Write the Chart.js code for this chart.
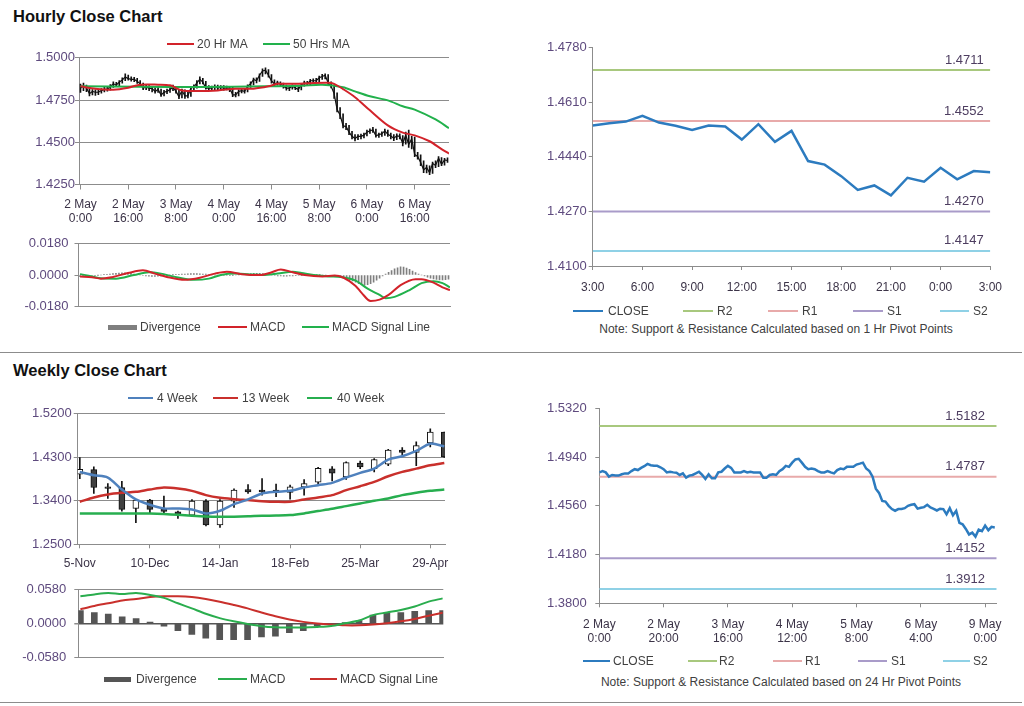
<!DOCTYPE html>
<html>
<head>
<meta charset="utf-8">
<title>Hourly and Weekly Close Charts</title>
<script src="https://cdn.jsdelivr.net/npm/chart.js@4.4.1/dist/chart.umd.min.js"></script>
<style>
 html,body{margin:0;padding:0;background:#fff;}
 body{position:relative;width:1024px;height:706px;overflow:hidden;font-family:"Liberation Sans",Arial,sans-serif;}
 canvas{position:absolute;}
 .title{position:absolute;left:13px;font-size:16.5px;font-weight:bold;line-height:20px;color:#111;white-space:nowrap;}
 .sep{position:absolute;left:0;width:1022px;height:1px;background:#8c8c8c;}
 .lgt{position:absolute;font-size:12px;line-height:14px;color:#404040;white-space:nowrap;}
 .lgs{position:absolute;}
 .note{position:absolute;font-size:12px;line-height:14px;color:#404040;white-space:nowrap;transform:translateX(-50%);}
</style>
</head>
<body>
<div class="title" style="top:6px">Hourly Close Chart</div>
<div class="sep" style="top:352px"></div>
<div class="title" style="top:360px">Weekly Close Chart</div>
<div class="sep" style="top:702px"></div>

<canvas id="cA" width="462" height="178" style="left:0;top:50px"></canvas>
<canvas id="cB" width="462" height="90" style="left:0;top:230px"></canvas>
<canvas id="cC" width="497" height="262" style="left:515px;top:38px"></canvas>
<canvas id="cD" width="460" height="170" style="left:0;top:404px"></canvas>
<canvas id="cE" width="460" height="99" style="left:0;top:574px"></canvas>
<canvas id="cF" width="497" height="258" style="left:515px;top:392px"></canvas>

<div class="note" style="left:776px;top:322px">Note: Support &amp; Resistance Calculated based on 1 Hr Pivot Points</div>
<div class="note" style="left:781px;top:675px">Note: Support &amp; Resistance Calculated based on 24 Hr Pivot Points</div>

<script>
// ===================== DATA =====================
// Hourly close (124 hourly bars, 2 May 0:00 onwards)
const hrClose = [
1.4821,1.4831,1.4821,1.4788,1.4801,1.4796,1.4796,1.4806,1.4813,1.4813,
1.4831,1.4846,1.4839,1.4856,1.4869,1.4887,1.4877,1.4872,1.4872,1.4861,
1.4846,1.4821,1.4826,1.4821,1.4818,1.4801,1.4813,1.4780,1.4796,1.4801,
1.4813,1.4826,1.4801,1.4770,1.4806,1.4775,1.4775,1.4821,1.4826,1.4851,
1.4872,1.4856,1.4821,1.4821,1.4821,1.4831,1.4821,1.4826,1.4821,1.4821,
1.4821,1.4780,1.4780,1.4801,1.4806,1.4801,1.4831,1.4846,1.4872,1.4864,
1.4897,1.4922,1.4927,1.4897,1.4864,1.4846,1.4851,1.4846,1.4831,1.4821,
1.4821,1.4831,1.4821,1.4813,1.4839,1.4851,1.4846,1.4864,1.4864,1.4864,
1.4882,1.4889,1.4897,1.4851,1.4831,1.4788,1.4694,1.4661,1.4598,1.4593,
1.4560,1.4535,1.4522,1.4535,1.4535,1.4542,1.4560,1.4568,1.4573,
1.4538,1.4545,1.4550,1.4568,1.4547,1.4537,1.4524,1.4538,1.4535,1.4494,
1.4542,1.4487,1.4521,1.4427,1.4416,1.4380,1.4337,1.4351,1.4320,1.4375,
1.4363,1.4406,1.4370,1.4396,1.4392];
const hrHigh = [
1.4845,1.4850,1.4838,1.4825,1.4812,1.4810,1.4808,1.4818,1.4825,1.4828,
1.4842,1.4858,1.4855,1.4865,1.4882,1.4905,1.4898,1.4888,1.4885,1.4878,
1.4865,1.4850,1.4838,1.4835,1.4830,1.4822,1.4825,1.4815,1.4808,1.4815,
1.4826,1.4838,1.4830,1.4808,1.4815,1.4810,1.4795,1.4830,1.4840,1.4865,
1.4888,1.4878,1.4860,1.4835,1.4832,1.4840,1.4838,1.4836,1.4835,1.4832,
1.4830,1.4825,1.4795,1.4810,1.4815,1.4818,1.4840,1.4858,1.4880,1.4882,
1.4905,1.4935,1.4940,1.4930,1.4900,1.4870,1.4862,1.4858,1.4850,1.4838,
1.4832,1.4840,1.4838,1.4828,1.4848,1.4862,1.4860,1.4872,1.4875,1.4878,
1.4892,1.4902,1.4905,1.4900,1.4858,1.4838,1.4792,1.4705,1.4668,1.4612,
1.4600,1.4565,1.4545,1.4545,1.4548,1.4555,1.4572,1.4580,1.4588,
1.4578,1.4555,1.4562,1.4578,1.4572,1.4555,1.4545,1.4550,1.4550,1.4540,
1.4560,1.4572,1.4535,1.4530,1.4440,1.4425,1.4390,1.4365,1.4360,1.4382,
1.4390,1.4415,1.4410,1.4405,1.4408];
const hrLow = [
1.4795,1.4805,1.4800,1.4775,1.4780,1.4778,1.4782,1.4790,1.4798,1.4802,
1.4808,1.4825,1.4830,1.4835,1.4850,1.4865,1.4868,1.4862,1.4858,1.4848,
1.4835,1.4812,1.4812,1.4805,1.4798,1.4790,1.4795,1.4772,1.4775,1.4788,
1.4795,1.4805,1.4790,1.4758,1.4762,1.4760,1.4762,1.4772,1.4812,1.4820,
1.4845,1.4845,1.4815,1.4810,1.4808,1.4812,1.4810,1.4812,1.4808,1.4810,
1.4800,1.4770,1.4768,1.4775,1.4792,1.4790,1.4798,1.4825,1.4840,1.4852,
1.4860,1.4890,1.4905,1.4885,1.4850,1.4835,1.4838,1.4832,1.4820,1.4808,
1.4805,1.4815,1.4812,1.4800,1.4810,1.4832,1.4835,1.4840,1.4850,1.4852,
1.4858,1.4872,1.4875,1.4840,1.4822,1.4760,1.4680,1.4640,1.4585,1.4575,
1.4545,1.4520,1.4508,1.4515,1.4520,1.4525,1.4538,1.4552,1.4558,
1.4530,1.4528,1.4535,1.4540,1.4535,1.4520,1.4510,1.4515,1.4520,1.4478,
1.4488,1.4470,1.4460,1.4415,1.4400,1.4362,1.4320,1.4318,1.4308,1.4315,
1.4350,1.4355,1.4362,1.4365,1.4380];
const hrTickLabels = ['2 May\n0:00','2 May\n16:00','3 May\n8:00','4 May\n0:00','4 May\n16:00','5 May\n8:00','6 May\n0:00','6 May\n16:00'];
const hrYTicks = [1.4250, 1.4500, 1.4750, 1.5000];

// Hourly moving averages (sampled hours)
const ma20Hours = [0,5,11,16,20,26,30,34,40,46,52,58,63,66,72,77,83,85,88,92,97,103,108,112,117,121,123.5];
const ma20Vals  = [1.4831,1.4817,1.4811,1.4823,1.4841,1.4841,1.4837,1.4807,1.4803,1.4807,1.4817,1.4817,1.4831,1.4846,1.4846,1.4850,1.4852,1.4846,1.4815,1.4767,1.4689,1.4600,1.4557,1.4541,1.4506,1.4459,1.4433];
const ma50Hours = [0,20,40,62,74,81,88,92,97,103,108,112,119,123.5];
const ma50Vals  = [1.4831,1.4829,1.4827,1.4831,1.4835,1.4841,1.4826,1.4801,1.4772,1.4748,1.4713,1.4693,1.4635,1.4584];

// Hourly MACD
const hrMacdHours = [0,4,7,11,16,21,25,29,35,40,45,49,54,60,64,67,71,75,81,85,88,92,94,97,100,103,107,112,114,118,121,123.5];
const hrMacd = [-0.0008,-0.0013,-0.0021,-0.0011,0.0011,0.0027,0.0008,-0.0011,-0.0028,-0.0016,0.0008,0.0019,0.0005,0.0000,0.0016,0.0032,0.0016,0.0000,-0.0008,-0.0003,-0.0016,-0.0063,-0.0103,-0.0150,-0.0142,-0.0115,-0.0058,-0.0024,-0.0024,-0.0044,-0.0071,-0.0087];
const hrSigHours = [0,4,7,12,18,23,27,31,38,43,47,52,56,61,66,71,74,78,83,87,92,96,100,102,105,110,114,118,121,123.5];
const hrSignal = [0.0005,-0.0008,-0.0019,-0.0021,0.0000,0.0016,0.0008,-0.0008,-0.0028,-0.0021,0.0000,0.0008,0.0005,0.0000,0.0008,0.0019,0.0011,0.0000,-0.0008,-0.0011,-0.0032,-0.0079,-0.0115,-0.0134,-0.0126,-0.0087,-0.0047,-0.0036,-0.0047,-0.0071];
const hrDiv = [
-0.0010,-0.0008,-0.0006,-0.0005,-0.0003,-0.0002,-0.0001,0.0000,0.0002,0.0004,0.0006,
0.0008,0.0010,0.0011,0.0012,0.0012,0.0011,0.0009,0.0006,0.0003,0.0000,
-0.0003,-0.0005,-0.0007,-0.0008,-0.0008,-0.0007,-0.0006,-0.0004,-0.0002,-0.0001,
0.0001,0.0002,0.0004,0.0005,0.0006,0.0007,0.0008,0.0008,0.0008,0.0007,
0.0006,0.0005,0.0003,0.0001,0.0000,-0.0001,-0.0002,-0.0003,-0.0003,-0.0002,
-0.0001,0.0000,0.0001,0.0002,0.0004,0.0006,0.0008,0.0009,0.0010,0.0009,
0.0008,0.0006,0.0003,0.0000,-0.0003,-0.0005,-0.0006,-0.0007,-0.0007,-0.0006,
-0.0005,-0.0004,-0.0003,-0.0002,-0.0001,0.0000,0.0001,0.0002,0.0002,0.0001,
0.0000,-0.0001,-0.0002,-0.0002,-0.0003,-0.0005,-0.0008,-0.0012,
-0.0018,-0.0026,-0.0034,-0.0042,-0.0050,-0.0056,-0.0058,-0.0056,-0.0050,-0.0042,-0.0030,-0.0018,-0.0006,
0.0005,0.0015,0.0025,0.0035,0.0042,0.0047,0.0045,0.0040,0.0032,0.0022,0.0014,0.0006,
0.0000,-0.0006,-0.0012,-0.0018,-0.0022,-0.0026,-0.0028,-0.0029,-0.0027,-0.0024];
const hrMacdYTicks = [-0.0180, 0.0000, 0.0180];

// 1-hour pivot chart (last 24 hours: 3:00 -> 3:00)
const dayClose = [1.4538,1.4545,1.4550,1.4568,1.4547,1.4537,1.4524,1.4538,1.4535,1.4494,1.4542,1.4487,1.4521,1.4427,1.4416,1.4380,1.4337,1.4351,1.4320,1.4375,1.4363,1.4406,1.4370,1.4396,1.4392];
const dayTickLabels = ['3:00','6:00','9:00','12:00','15:00','18:00','21:00','0:00','3:00'];
const dayYTicks = [1.4100, 1.4270, 1.4440, 1.4610, 1.4780];
const pivotNames = ['R2','R1','S1','S2'];
const pivot1h  = [1.4711, 1.4552, 1.4270, 1.4147];
const pivot24h = [1.5182, 1.4787, 1.4152, 1.3912];

// 24-hour pivot chart
const wkHrTickLabels = ['2 May\n0:00','2 May\n20:00','3 May\n16:00','4 May\n12:00','5 May\n8:00','6 May\n4:00','9 May\n0:00'];
const wkHrYTicks = [1.3800, 1.4180, 1.4560, 1.4940, 1.5320];

// Weekly candles (27 weeks from 5-Nov)
const wkOpen  = [1.3950,1.4046,1.3689,1.3675,1.3242,1.3414,1.3235,1.3173,1.3105,1.3393,1.2899,1.3393,1.3634,1.3620,1.3620,1.3572,1.3689,1.3785,1.4060,1.3895,1.4183,1.4067,1.4156,1.4451,1.4403,1.4595,1.4822];
const wkHigh  = [1.4293,1.4101,1.3757,1.3805,1.3428,1.3428,1.3496,1.3187,1.3427,1.3427,1.3427,1.3647,1.3737,1.3860,1.3744,1.3723,1.3840,1.4094,1.4108,1.4204,1.4224,1.4273,1.4465,1.4499,1.4622,1.4891,1.4822];
const wkLow   = [1.3860,1.3551,1.3448,1.3187,1.2947,1.3153,1.3139,1.3036,1.3070,1.2878,1.2851,1.3263,1.3551,1.3517,1.3483,1.3434,1.3517,1.3737,1.3812,1.3840,1.4067,1.3998,1.4128,1.4348,1.4128,1.4513,1.4300];
const wkClose = [1.4053,1.3675,1.3654,1.3221,1.3414,1.3221,1.3180,1.3118,1.3393,1.2899,1.3393,1.3620,1.3586,1.3586,1.3572,1.3689,1.3757,1.4074,1.3970,1.4190,1.4101,1.4252,1.4451,1.4403,1.4540,1.4822,1.4307];
const wk4  = [1.3998,1.3930,1.3881,1.3634,1.3428,1.3318,1.3242,1.3242,1.3221,1.3139,1.3194,1.3331,1.3428,1.3551,1.3586,1.3606,1.3675,1.3723,1.3771,1.3881,1.3977,1.4066,1.4252,1.4321,1.4431,1.4582,1.4527];
const wk13 = [1.3380,1.3469,1.3531,1.3565,1.3586,1.3634,1.3675,1.3654,1.3606,1.3517,1.3462,1.3434,1.3414,1.3393,1.3380,1.3380,1.3428,1.3469,1.3517,1.3620,1.3702,1.3792,1.3908,1.3998,1.4066,1.4135,1.4183];
const wk40 = [1.3139,1.3139,1.3139,1.3139,1.3139,1.3135,1.3125,1.3110,1.3090,1.3075,1.3070,1.3072,1.3080,1.3091,1.3095,1.3105,1.3139,1.3187,1.3235,1.3290,1.3345,1.3400,1.3448,1.3517,1.3565,1.3606,1.3634];
const weekTickLabels = ['5-Nov','10-Dec','14-Jan','18-Feb','25-Mar','29-Apr'];
const weekYTicks = [1.2500, 1.3400, 1.4300, 1.5200];

// Weekly MACD
const wkMacd   = [0.0469,0.0501,0.0524,0.0506,0.0524,0.0492,0.0441,0.0348,0.0260,0.0167,0.0093,0.0037,-0.0009,-0.0046,-0.0065,-0.0070,-0.0070,-0.0060,-0.0042,0.0005,0.0051,0.0144,0.0190,0.0232,0.0292,0.0376,0.0432];
const wkSignal = [0.0246,0.0302,0.0348,0.0394,0.0422,0.0455,0.0469,0.0469,0.0455,0.0422,0.0376,0.0320,0.0260,0.0190,0.0125,0.0070,0.0028,0.0000,-0.0019,-0.0032,-0.0032,-0.0019,0.0005,0.0037,0.0079,0.0135,0.0186];
const wkDiv    = [0.0223,0.0190,0.0160,0.0116,0.0084,0.0023,-0.0046,-0.0125,-0.0186,-0.0251,-0.0278,-0.0278,-0.0278,-0.0232,-0.0218,-0.0158,-0.0125,-0.0042,-0.0023,0.0014,0.0051,0.0144,0.0186,0.0186,0.0209,0.0223,0.0223];
const wkMacdYTicks = [-0.0580, 0.0000, 0.0580];

// ===================== STYLE =====================
const FONT = '"Liberation Sans", Arial, sans-serif';
const GRID = '#8c8c8c';
const YCOL = '#5e4a7e';
const XCOL = '#3b3347';
const RED = '#d2232a', GREEN = '#22b14c', BLUE_MA = '#4f81bd', CLOSE_BLUE = '#2c7bbf';
const PIVOT_COLORS = ['#a8c87e', '#e8aaaa', '#a99bc9', '#8fd1e6'];

function yAxis(o) {
  return {
    type: 'linear', min: o.ticks[0], max: o.ticks[o.ticks.length - 1],
    afterBuildTicks: s => { s.ticks = o.ticks.map(v => ({ value: v })); },
    afterFit: s => { s.width = o.width; },
    border: { display: true, color: GRID, width: 1 },
    grid: { drawOnChartArea: o.grid, color: o.gridColor || GRID, lineWidth: o.gridWidth || 1, drawTicks: true, tickLength: 4, tickColor: GRID },
    ticks: { padding: o.pad, color: YCOL, font: { family: FONT, size: 13 }, callback: v => Number(v).toFixed(4) }
  };
}
function xAxis(o) {
  const ax = {
    type: 'linear', min: o.min, max: o.max, offset: false,
    afterFit: s => { s.height = o.height; },
    border: { display: true, color: GRID, width: 1 },
    grid: { display: true, drawOnChartArea: false, drawTicks: !!o.labels, tickLength: o.tl || 4, tickColor: GRID, offset: false },
    ticks: { display: !!o.labels, autoSkip: false, maxRotation: 0, minRotation: 0, padding: o.pad || 0, color: XCOL, font: { family: FONT, size: 12, lineHeight: 1.2 } }
  };
  if (o.labels) {
    ax.afterBuildTicks = s => { s.ticks = o.labels.map((_, i) => ({ value: o.start + i * o.step })); };
    ax.ticks.callback = v => o.labels[Math.round((v - o.start) / o.step)].split('\n');
  }
  return ax;
}
function baseOpts(pad, scales, plugins) {
  return {
    responsive: false, animation: false, devicePixelRatio: 1, events: [],
    layout: { padding: pad },
    plugins: Object.assign({ legend: { display: false }, tooltip: { enabled: false } }, plugins || {}),
    scales
  };
}
const pts = (xs, ys) => ys.map((v, i) => ({ x: xs[i], y: v }));
const idxPts = ys => ys.map((v, i) => ({ x: i, y: v }));
const lineDs = (label, data, color, width, extra) => Object.assign({
  type: 'line', label, data, borderColor: color, backgroundColor: color, borderWidth: width,
  pointRadius: 0, fill: false, tension: 0, order: 0
}, extra || {});

const pivotLabelPlugin = {
  id: 'pivotLabels',
  afterDatasetsDraw(chart, args, opts) {
    const { ctx, chartArea, scales } = chart;
    ctx.save();
    ctx.font = '13px ' + FONT;
    ctx.fillStyle = '#4d3d60';
    ctx.textAlign = 'right';
    ctx.textBaseline = 'middle';
    chart.data.datasets.forEach(ds => {
      if (ds.pivotValue === undefined) return;
      const py = scales.y.getPixelForValue(ds.pivotValue);
      ctx.fillText(ds.pivotValue.toFixed(4), chartArea.right - opts.inset, py - 10);
    });
    ctx.restore();
  }
};

// ===================== CHART A: hourly price =====================
new Chart(document.getElementById('cA'), {
  type: 'bar',
  data: { datasets: [
    lineDs('20 Hr MA', pts(ma20Hours, ma20Vals), RED, 2, { tension: 0.3 }),
    lineDs('50 Hrs MA', pts(ma50Hours, ma50Vals), GREEN, 2, { tension: 0.3 }),
    lineDs('Close', idxPts(hrClose), '#111', 1.2, { order: 1 }),
    { type: 'bar', label: 'High-Low', data: hrLow.map((v, i) => ({ x: i, y: [v, hrHigh[i]] })),
      backgroundColor: '#111', barThickness: 1, grouped: false, order: 2 }
  ]},
  options: baseOpts({ top: 7.5, right: 13, left: 0, bottom: 0 }, {
    x: xAxis({ min: -0.5, max: 123.5, labels: hrTickLabels, start: 0, step: 16, height: 43.5, tl: 5, pad: 8 }),
    y: yAxis({ ticks: hrYTicks, width: 79, pad: 0, grid: true })
  })
});

// ===================== CHART B: hourly MACD =====================
new Chart(document.getElementById('cB'), {
  type: 'bar',
  data: { datasets: [
    lineDs('MACD', pts(hrMacdHours, hrMacd), RED, 2, { cubicInterpolationMode: 'monotone' }),
    lineDs('MACD Signal Line', pts(hrSigHours, hrSignal), GREEN, 2, { cubicInterpolationMode: 'monotone' }),
    { type: 'bar', label: 'Divergence', data: idxPts(hrDiv), backgroundColor: '#7f7f7f', barThickness: 1, grouped: false, order: 1 }
  ]},
  options: baseOpts({ top: 9, right: 12, left: 0, bottom: 0 }, {
    x: xAxis({ min: -0.5, max: 123.5, height: 5 }),
    y: yAxis({ ticks: hrMacdYTicks, width: 78.5, pad: 6, grid: true,
      gridColor: c => (c.tick && c.tick.value === 0) ? 'rgba(0,0,0,0)' : GRID })
  })
});

// ===================== CHART C: 1 hr pivot =====================
new Chart(document.getElementById('cC'), {
  type: 'line',
  data: { datasets: [
    lineDs('CLOSE', idxPts(dayClose), CLOSE_BLUE, 2.5, { order: 0 }),
    ...pivotNames.map((n, k) => lineDs(n, [{ x: 0, y: pivot1h[k] }, { x: dayClose.length - 1, y: pivot1h[k] }], PIVOT_COLORS[k], 2, { order: 1, pivotValue: pivot1h[k] }))
  ]},
  options: baseOpts({ top: 9.3, right: 13.7, left: 0, bottom: 0 }, {
    x: xAxis({ min: 0, max: dayClose.length - 1, labels: dayTickLabels, start: 0, step: 3, height: 34, tl: 4, pad: 10 }),
    y: yAxis({ ticks: dayYTicks, width: 77.7, pad: 2, grid: false })
  }, { pivotLabels: { inset: 6.6 } }),
  plugins: [pivotLabelPlugin]
});

// ===================== CHART D: weekly price =====================
new Chart(document.getElementById('cD'), {
  type: 'bar',
  data: { datasets: [
    lineDs('4 Week', idxPts(wk4), BLUE_MA, 2.5, { tension: 0.3 }),
    lineDs('13 Week', idxPts(wk13), '#c9302c', 2.5, { tension: 0.3 }),
    lineDs('40 Week', idxPts(wk40), '#27ae4f', 2.5, { tension: 0.3 }),
    { type: 'bar', label: 'Body', data: wkOpen.map((o, i) => ({ x: i, y: [o, wkClose[i]] })),
      backgroundColor: wkOpen.map((o, i) => wkClose[i] >= o ? '#ffffff' : '#404040'),
      borderColor: '#111', borderWidth: 1, borderSkipped: false, barThickness: 6, grouped: false, order: 1 },
    { type: 'bar', label: 'Wick', data: wkLow.map((l, i) => ({ x: i, y: [l, wkHigh[i]] })),
      backgroundColor: '#111', barThickness: 1, grouped: false, order: 2 }
  ]},
  options: baseOpts({ top: 9.3, right: 15, left: 0, bottom: 0 }, {
    x: xAxis({ min: -0.15, max: 26.05, labels: weekTickLabels, start: 0, step: 5, height: 29.7, tl: 4, pad: 8 }),
    y: yAxis({ ticks: weekYTicks, width: 77.7, pad: 2, grid: true })
  })
});

// ===================== CHART E: weekly MACD =====================
new Chart(document.getElementById('cE'), {
  type: 'bar',
  data: { datasets: [
    lineDs('MACD', idxPts(wkMacd), '#2aad4e', 2, { tension: 0.3 }),
    lineDs('MACD Signal Line', idxPts(wkSignal), '#c9302c', 2, { tension: 0.3 }),
    { type: 'bar', label: 'Divergence', data: idxPts(wkDiv), backgroundColor: '#555555', barThickness: 6, grouped: false, order: 1 }
  ]},
  options: baseOpts({ top: 10.3, right: 16.7, left: 0, bottom: 0 }, {
    x: xAxis({ min: -0.15, max: 26.05, height: 5.3 }),
    y: yAxis({ ticks: wkMacdYTicks, width: 78.3, pad: 8, grid: true,
      gridColor: c => (c.tick && c.tick.value === 0) ? '#555555' : GRID,
      gridWidth: c => (c.tick && c.tick.value === 0) ? 1.5 : 1 })
  })
});

// ===================== CHART F: 24 hr pivot =====================
new Chart(document.getElementById('cF'), {
  type: 'line',
  data: { datasets: [
    lineDs('CLOSE', idxPts(hrClose), CLOSE_BLUE, 2.5, { order: 0 }),
    ...pivotNames.map((n, k) => lineDs(n, [{ x: 0, y: pivot24h[k] }, { x: 123.6, y: pivot24h[k] }], PIVOT_COLORS[k], 2, { order: 1, pivotValue: pivot24h[k] }))
  ]},
  options: baseOpts({ top: 9.7, right: 15.3, left: 0, bottom: 0 }, {
    x: xAxis({ min: 0, max: 123.6, labels: wkHrTickLabels, start: 0, step: 20, height: 46.7, tl: 4, pad: 9.8 }),
    y: yAxis({ ticks: wkHrYTicks, width: 84.3, pad: 8.6, grid: false })
  }, { pivotLabels: { inset: 11.7 } }),
  plugins: [pivotLabelPlugin]
});

// ===================== HTML legends =====================
function addLegend(cy, items) {
  items.forEach(it => {
    const s = document.createElement('div');
    s.className = 'lgs';
    s.style.cssText = `left:${it.x}px;top:${cy - it.h / 2}px;width:${it.w}px;height:${it.h}px;background:${it.c}`;
    document.body.appendChild(s);
    const t = document.createElement('div');
    t.className = 'lgt';
    t.textContent = it.t;
    t.style.left = it.tx + 'px';
    t.style.top = (cy - 7) + 'px';
    document.body.appendChild(t);
  });
}
addLegend(44, [
  { x: 167, w: 27, h: 1.5, c: RED, t: '20 Hr MA', tx: 197 },
  { x: 263, w: 27, h: 1.5, c: GREEN, t: '50 Hrs MA', tx: 293 }
]);
addLegend(327, [
  { x: 108, w: 29, h: 5, c: '#7f7f7f', t: 'Divergence', tx: 140 },
  { x: 218, w: 29, h: 1.5, c: RED, t: 'MACD', tx: 250 },
  { x: 302, w: 27, h: 1.5, c: GREEN, t: 'MACD  Signal Line', tx: 332 }
]);
addLegend(311, [
  { x: 573, w: 30, h: 2, c: CLOSE_BLUE, t: 'CLOSE', tx: 608 },
  { x: 683, w: 30, h: 1.5, c: PIVOT_COLORS[0], t: 'R2', tx: 717 },
  { x: 768, w: 30, h: 1.5, c: PIVOT_COLORS[1], t: 'R1', tx: 802 },
  { x: 853, w: 30, h: 1.5, c: PIVOT_COLORS[2], t: 'S1', tx: 887 },
  { x: 940, w: 29, h: 1.5, c: PIVOT_COLORS[3], t: 'S2', tx: 973 }
]);
addLegend(398, [
  { x: 128, w: 25, h: 1.5, c: BLUE_MA, t: '4 Week', tx: 157 },
  { x: 213, w: 25, h: 1.5, c: '#c9302c', t: '13 Week', tx: 242 },
  { x: 307, w: 25, h: 1.5, c: '#27ae4f', t: '40 Week', tx: 337 }
]);
addLegend(679, [
  { x: 104, w: 27, h: 5, c: '#555555', t: 'Divergence', tx: 136 },
  { x: 218, w: 29, h: 1.5, c: '#2aad4e', t: 'MACD', tx: 250 },
  { x: 310, w: 27, h: 1.5, c: '#c9302c', t: 'MACD  Signal Line', tx: 340 }
]);
addLegend(661, [
  { x: 583, w: 27, h: 2, c: CLOSE_BLUE, t: 'CLOSE', tx: 613 },
  { x: 688, w: 29, h: 1.5, c: PIVOT_COLORS[0], t: 'R2', tx: 719 },
  { x: 773, w: 29, h: 1.5, c: PIVOT_COLORS[1], t: 'R1', tx: 805 },
  { x: 858, w: 29, h: 1.5, c: PIVOT_COLORS[2], t: 'S1', tx: 891 },
  { x: 943, w: 27, h: 1.5, c: PIVOT_COLORS[3], t: 'S2', tx: 973 }
]);
</script>
</body>
</html>
